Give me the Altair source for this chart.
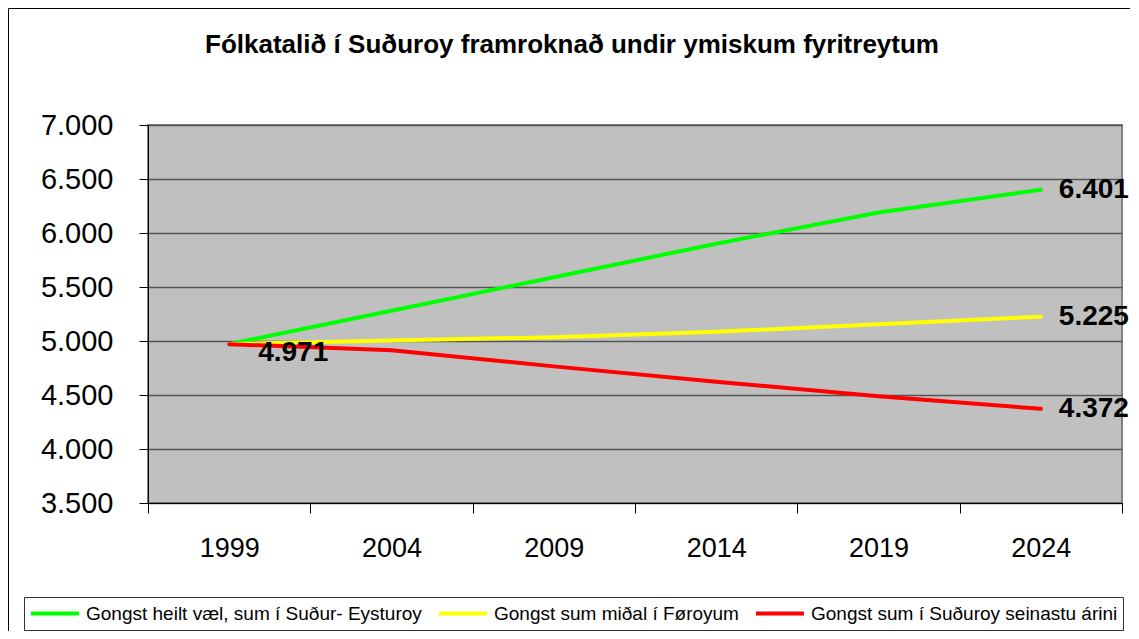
import altair as alt
import pandas as pd

# ---- data ----
years = ["1999", "2004", "2009", "2014", "2019", "2024"]
series_names = [
    "Gongst heilt væl, sum í Suður- Eysturoy",
    "Gongst sum miðal í Føroyum",
    "Gongst sum í Suðuroy seinastu árini",
]
green_vals = [4971, 5280, 5590, 5900, 6190, 6401]
yellow_vals = [4971, 5005, 5035, 5085, 5155, 5225]
red_vals = [4971, 4915, 4765, 4623, 4488, 4372]
series_colors = ["#00FF00", "#FFFF00", "#FF0000"]
y_ticks = [3500, 4000, 4500, 5000, 5500, 6000, 6500, 7000]
title_text = "Fólkatalið í Suðuroy framroknað undir ymiskum fyritreytum"

FONT = "Liberation Sans"


def fmt(v):
    return f"{v:,}".replace(",", ".")


rows = []
for name, vals in zip(series_names, [green_vals, yellow_vals, red_vals]):
    for i, (yr, v) in enumerate(zip(years, vals)):
        rows.append({"year": yr, "value": v, "series": name, "order": i, "label": fmt(v)})
df = pd.DataFrame(rows)

end_df = df[df["year"] == years[-1]]
start_df = df[(df["year"] == years[0]) & (df["series"] == series_names[0])]

x_enc = alt.X(
    "year:O",
    bandPosition=0.5,
    scale=alt.Scale(type="band", domain=years, paddingInner=0, paddingOuter=0),
    axis=alt.Axis(
        title=None,
        tickBand="extent",
        labelAngle=0,
        grid=False,
        domainColor="black",
        tickColor="black",
        tickSize=10,
        labelFontSize=27,
        labelFont=FONT,
        labelColor="black",
        labelPadding=22,
    ),
)
y_enc = alt.Y(
    "value:Q",
    scale=alt.Scale(domain=[3500, 7000], nice=False, zero=False),
    axis=alt.Axis(
        title=None,
        values=y_ticks,
        labelExpr="replace(format(datum.value, ','), ',', '.')",
        grid=True,
        gridColor="#555555",
        gridWidth=1.5,
        domainColor="black",
        tickColor="black",
        tickSize=9,
        labelFontSize=29,
        labelFont=FONT,
        labelColor="black",
        labelPadding=26,
    ),
)

border = alt.Chart(pd.DataFrame({"a": [0]})).mark_rect(
    fillOpacity=0, stroke="black", strokeWidth=1
).encode(
    x=alt.value(-139.5), y=alt.value(-116.5), x2=alt.value(3000), y2=alt.value(3000)
)

lines = alt.Chart(df).mark_line(strokeWidth=4, strokeCap="round").encode(
    x=x_enc,
    y=y_enc,
    color=alt.Color(
        "series:N",
        scale=alt.Scale(domain=series_names, range=series_colors),
        legend=alt.Legend(title=None),
    ),
    order="order:Q",
)

end_labels = alt.Chart(end_df).mark_text(
    align="left", baseline="middle", dx=18, fontSize=28, fontWeight="bold", font=FONT, color="black"
).encode(x=alt.X("year:O", bandPosition=0.5), y="value:Q", text="label:N")

start_label = alt.Chart(start_df).mark_text(
    align="left", baseline="middle", dx=29, dy=9, fontSize=28, fontWeight="bold", font=FONT, color="black"
).encode(x=alt.X("year:O", bandPosition=0.5), y="value:Q", text="label:N")

title = alt.Chart(pd.DataFrame({"t": [title_text]})).mark_text(
    align="center", baseline="middle", fontSize=26, fontWeight="bold", font=FONT, color="black"
).encode(text="t:N", x=alt.value(424), y=alt.value(-80))

chart = (
    alt.layer(border, lines, end_labels, start_label, title)
    .properties(
        width=974,
        height=378,
        autosize=alt.AutoSizeParams(type="none"),
        padding={"left": 140, "top": 117, "right": 8, "bottom": 128},
        background="white",
    )
    .configure_view(fill="#C0C0C0", stroke="#808080", strokeWidth=2)
    .configure_legend(
        orient="none",
        legendX=-124,
        legendY=472,
        direction="horizontal",
        strokeColor="#333333",
        fillColor="white",
        padding=5,
        symbolType="stroke",
        symbolStrokeWidth=4,
        symbolSize=2304,
        clipHeight=23,
        labelFontSize=19,
        labelFont=FONT,
        labelColor="black",
        labelLimit=0,
        columnPadding=15,
        labelOffset=5,
    )
)

chart.save("out.html", embed_options={"renderer": "svg", "actions": False})
